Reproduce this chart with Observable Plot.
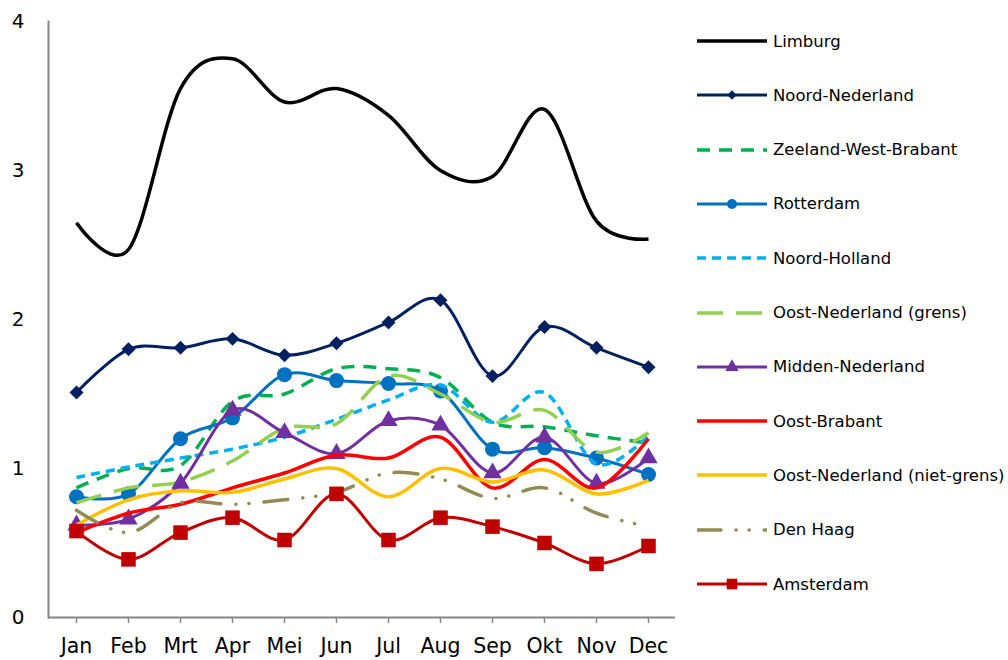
<!DOCTYPE html>
<html><head><meta charset="utf-8">
<script src="https://cdn.jsdelivr.net/npm/d3@7"></script>
<script src="https://cdn.jsdelivr.net/npm/@observablehq/plot@0.6"></script>
<style>
body{margin:0;background:#fff;font-family:"DejaVu Sans",sans-serif;}
#wrap{position:relative;width:1008px;height:660px;overflow:hidden;}
#chart{position:absolute;left:0;top:0;}
#legend{position:absolute;left:697px;top:0;}
.row{position:absolute;left:0;display:flex;align-items:center;height:20px;white-space:nowrap;font-size:16.5px;color:#000;}
.row svg{margin-right:6px;flex:none}
</style></head>
<body><div id="wrap"><div id="chart"></div><div id="legend"></div></div>
<script>
const months = ["Jan","Feb","Mrt","Apr","Mei","Jun","Jul","Aug","Sep","Okt","Nov","Dec"];
const yTicks = [0, 1, 2, 3, 4];
const seriesNames = ["Limburg","Noord-Nederland","Zeeland-West-Brabant","Rotterdam","Noord-Holland","Oost-Nederland (grens)","Midden-Nederland","Oost-Brabant","Oost-Nederland (niet-grens)","Den Haag","Amsterdam"];

const limburg        = [2.65,2.47,3.55,3.75,3.46,3.55,3.37,3.00,2.96,3.41,2.66,2.54];
const noordNederland = [1.51,1.80,1.81,1.87,1.76,1.84,1.98,2.13,1.62,1.95,1.81,1.68];
const zeelandWB      = [0.87,1.00,1.02,1.45,1.50,1.67,1.67,1.61,1.31,1.28,1.22,1.17];
const rotterdam      = [0.81,0.83,1.20,1.34,1.63,1.59,1.57,1.52,1.13,1.14,1.07,0.96];
const noordHolland   = [0.94,1.01,1.07,1.13,1.21,1.33,1.46,1.56,1.31,1.51,1.03,1.22];
const oostNLgrens    = [0.77,0.87,0.91,1.05,1.27,1.30,1.62,1.50,1.31,1.39,1.11,1.24];
const middenNL       = [0.62,0.66,0.90,1.39,1.24,1.10,1.32,1.29,0.97,1.21,0.90,1.07];
const oostBrabant    = [0.57,0.70,0.76,0.87,0.97,1.09,1.07,1.21,0.87,1.06,0.87,1.20];
const oostNLniet     = [0.62,0.79,0.85,0.84,0.93,1.00,0.81,1.00,0.91,0.99,0.83,0.92];
const denHaag        = [0.72,0.57,0.77,0.76,0.79,0.84,0.97,0.93,0.80,0.87,0.70,0.61];
const amsterdam      = [0.58,0.39,0.57,0.67,0.52,0.83,0.52,0.67,0.61,0.50,0.36,0.48];

const seriesValues = [limburg,noordNederland,zeelandWB,rotterdam,noordHolland,oostNLgrens,middenNL,oostBrabant,oostNLniet,denHaag,amsterdam];

// styles (kept apart from data)
const styles = {
  "Limburg":                     {color:"#000000", width:3.5},
  "Noord-Nederland":             {color:"#002060", width:3, symbol:"diamond2", r:6.3, lr:4.2},
  "Zeeland-West-Brabant":        {color:"#00B050", width:3.5, dash:"13,9"},
  "Rotterdam":                   {color:"#0070C0", width:3, symbol:"circle", r:7.5, lr:5},
  "Noord-Holland":               {color:"#00B0F0", width:3.5, dash:"9,6"},
  "Oost-Nederland (grens)":      {color:"#92D050", width:3.5, dash:"26,13"},
  "Midden-Nederland":            {color:"#7030A0", width:3, symbol:"triangle", r:6.8, lr:5},
  "Oost-Brabant":                {color:"#FF0000", width:3.5},
  "Oost-Nederland (niet-grens)": {color:"#FFC000", width:3.5},
  "Den Haag":                    {color:"#948A54", width:3.5, dash:"24,15,0.1,13,0.1,15", cap:"round"},
  "Amsterdam":                   {color:"#C00000", width:3, symbol:"square", r:8.2, lr:6}
};

const table = [];
seriesNames.forEach((name, i) => seriesValues[i].forEach((v, j) => table.push({name, month: months[j], value: v})));

const plot = Plot.plot({
  width: 690, height: 660,
  marginLeft: 48, marginRight: 15, marginTop: 21, marginBottom: 43,
  style: {fontFamily: "DejaVu Sans, sans-serif", fontSize: "20px", color: "#000", background: "#fff", overflow: "visible"},
  x: {type: "point", domain: months, padding: 0.5, label: null},
  y: {domain: [0, 4], label: null},
  marks: [
    Plot.axisY({ticks: yTicks, tickSize: 0, tickPadding: 24, label: null, fontSize: 20, tickFormat: d => String(d)}),
    Plot.axisX({tickSize: 6, tickPadding: 15, label: null, stroke: "#868686", strokeWidth: 1.5, fontSize: 20.5}),
    Plot.frame({anchor: "left", stroke: "#868686", strokeWidth: 2}),
    Plot.ruleY([0], {stroke: "#868686", strokeWidth: 2}),
    ...seriesNames.flatMap((name) => {
      const s = styles[name];
      const rows = table.filter(d => d.name === name);
      const out = [Plot.line(rows, {x:"month", y:"value", stroke:s.color, strokeWidth:s.width,
        strokeDasharray:s.dash, strokeLinecap:s.cap || "butt", strokeLinejoin:"round", curve:"cardinal", tension:0})];
      if (s.symbol) out.push(Plot.dot(rows, {x:"month", y:"value", symbol:s.symbol, r:s.r, fill:s.color, stroke:"none"}));
      return out;
    })
  ]
});
document.getElementById("chart").appendChild(plot);

// legend
const legend = d3.select("#legend");
const symMap = {diamond2: d3.symbolDiamond2, circle: d3.symbolCircle, triangle: d3.symbolTriangle, square: d3.symbolSquare};
seriesNames.forEach((name, i) => {
  const s = styles[name];
  const cy = 41 + i * 54.3;
  const row = legend.append("div").attr("class", "row").style("top", (cy - 10) + "px");
  const sv = row.append("svg").attr("width", 70).attr("height", 20);
  sv.append("line").attr("x1", 0).attr("x2", 70).attr("y1", 10).attr("y2", 10)
    .attr("stroke", s.color).attr("stroke-width", s.width)
    .attr("stroke-dasharray", s.dash || null).attr("stroke-linecap", s.cap || "butt");
  if (s.symbol) {
    sv.append("path").attr("transform", "translate(35,10)")
      .attr("d", d3.symbol(symMap[s.symbol], Math.PI * s.lr * s.lr)()).attr("fill", s.color);
  }
  row.append("span").text(name);
});
</script>
</body></html>
